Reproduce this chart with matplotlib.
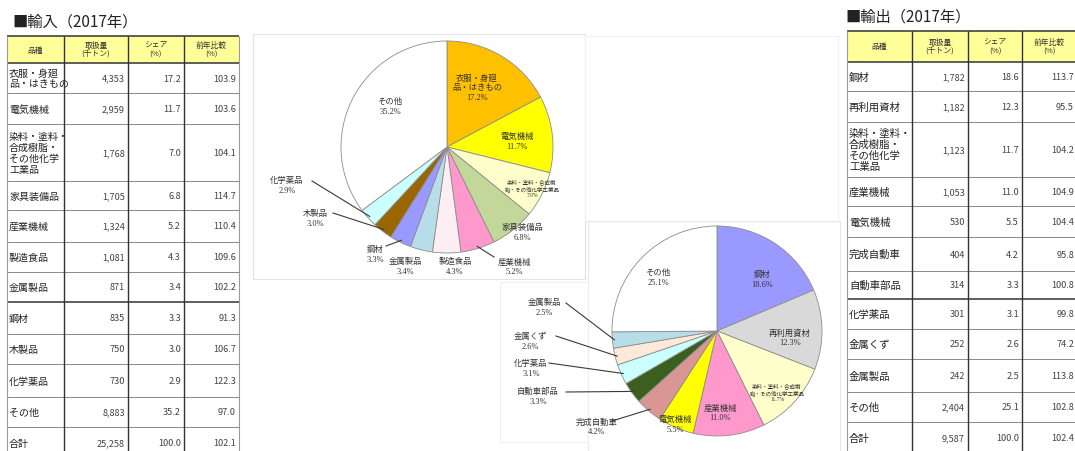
import matplotlib.pyplot as plt
import numpy as np
from matplotlib.patches import Rectangle

plt.rcParams['font.family'] = ['Noto Sans CJK JP', 'DejaVu Sans']

W, H = 1075, 452

# 輸入（2017年）
imp_items = ["衣服・身廻\n品・はきもの", "電気機械", "染料・塗料・\n合成樹脂・\nその他化学\n工業品",
             "家具装備品", "産業機械", "製造食品", "金属製品", "鋼材", "木製品", "化学薬品",
             "その他", "合計"]
imp_qty = [4353, 2959, 1768, 1705, 1324, 1081, 871, 835, 750, 730, 8883, 25258]
imp_share = [17.2, 11.7, 7.0, 6.8, 5.2, 4.3, 3.4, 3.3, 3.0, 2.9, 35.2, 100.0]
imp_yoy = [103.9, 103.6, 104.1, 114.7, 110.4, 109.6, 102.2, 91.3, 106.7, 122.3, 97.0, 102.1]
imp_pie_names = ["衣服・身廻\n品・はきもの", "電気機械", "染料・塗料・合成樹\n脂・その他化学工業品",
                 "家具装備品", "産業機械", "製造食品", "金属製品", "鋼材", "木製品", "化学薬品", "その他"]
imp_colors = ["#FFC000", "#FFFF00", "#FFFFCC", "#C4D79B", "#FF99CC", "#FDEEF4",
              "#B7DEE8", "#9999FF", "#996600", "#CCFFFF", "#FFFFFF"]

# 輸出（2017年）
exp_items = ["鋼材", "再利用資材", "染料・塗料・\n合成樹脂・\nその他化学\n工業品", "産業機械",
             "電気機械", "完成自動車", "自動車部品", "化学薬品", "金属くず", "金属製品",
             "その他", "合計"]
exp_qty = [1782, 1182, 1123, 1053, 530, 404, 314, 301, 252, 242, 2404, 9587]
exp_share = [18.6, 12.3, 11.7, 11.0, 5.5, 4.2, 3.3, 3.1, 2.6, 2.5, 25.1, 100.0]
exp_yoy = [113.7, 95.5, 104.2, 104.9, 104.4, 95.8, 100.8, 99.8, 74.2, 113.8, 102.8, 102.4]
exp_pie_names = ["鋼材", "再利用資材", "染料・塗料・合成樹\n脂・その他化学工業品", "産業機械",
                 "電気機械", "完成自動車", "自動車部品", "化学薬品", "金属くず", "金属製品", "その他"]
exp_colors = ["#9999FF", "#D9D9D9", "#FFFFCC", "#FF99CC", "#FFFF00", "#D99694",
              "#3A5F1E", "#CCFFFF", "#FDE9D9", "#B7DEE8", "#FFFFFF"]

header = ["品種", "取扱量\n(千トン)", "シェア\n(%)", "前年比較\n(%)"]

fig = plt.figure(figsize=(W / 100, H / 100), dpi=100)


def pixel_axes():
    ax = fig.add_axes([0, 0, 1, 1])
    ax.set_xlim(0, W)
    ax.set_ylim(H, 0)
    ax.axis('off')
    ax.patch.set_alpha(0)
    return ax


bg = pixel_axes()

# faint chart-area frames behind the pies
for x0, y0, x1, y1, c in [(253, 35, 585, 280, '#e2e2e2'), (585, 37, 838, 222, '#f0f0f0'),
                          (588, 222, 840, 455, '#e8e8e8'), (500, 283, 588, 443, '#f0f0f0')]:
    bg.add_patch(Rectangle((x0, y0), x1 - x0, y1 - y0, fill=False, ec=c, lw=0.8, zorder=0))


def draw_table(title, tx, xs, ys, items, qty, share, yoy, item_fs):
    bg.text(tx, ys[0] - 15, title, fontsize=11, va='center', ha='left', color='#222222')
    bg.add_patch(Rectangle((xs[0], ys[0]), xs[-1] - xs[0], ys[1] - ys[0],
                           fc='#FFFF99', ec='none', zorder=1))
    for j, h in enumerate(header):
        bg.text((xs[j] + xs[j + 1]) / 2, (ys[0] + ys[1]) / 2, h, fontsize=5.6,
                ha='center', va='center', color='#333333', linespacing=1.1, zorder=3)
    for i, name in enumerate(items):
        yc = (ys[i + 1] + ys[i + 2]) / 2
        bg.text(xs[0] + 2, yc, name, fontsize=item_fs, ha='left', va='center',
                color='#222222', linespacing=1.1, zorder=3)
        vals = [f"{qty[i]:,}", f"{share[i]:.1f}", f"{yoy[i]:.1f}"]
        for j, v in enumerate(vals):
            bg.text(xs[j + 2] - 3, yc, v, fontsize=6.6, ha='right', va='center',
                    color='#444444', zorder=3)
    # grid
    for k, y in enumerate(ys):
        heavy = k in (0, 1, 8)
        bg.plot([xs[0], xs[-1]], [y, y], color='#333333' if heavy else '#8a8a8a',
                lw=1.1 if heavy else 0.7, zorder=2, solid_capstyle='butt')
    for k, x in enumerate(xs):
        edge = k in (0, len(xs) - 1)
        bg.plot([x, x], [ys[0], ys[-1]], color='#9a9a9a' if edge else '#333333',
                lw=0.8 if edge else 1.0, zorder=2, solid_capstyle='butt')


imp_xs = [7, 64, 128, 184, 239]
imp_ys = [37, 64, 94, 125, 182, 211, 243, 273, 303, 335, 365, 398, 428, 460]
exp_xs = [847, 912, 968, 1022, 1077]
exp_ys = [32, 63, 92, 123, 178, 207, 238, 272, 300, 330, 360, 393, 423, 455]

draw_table("■輸入（2017年）", 12, imp_xs, imp_ys, imp_items, imp_qty, imp_share, imp_yoy, 7.2)
draw_table("■輸出（2017年）", 845, exp_xs, exp_ys, exp_items, exp_qty, exp_share, exp_yoy, 7.5)


def draw_pie(cx, cy, r, shares, colors):
    pad = 1.1
    R = r * pad
    pax = fig.add_axes([(cx - R) / W, (H - cy - R) / H, 2 * R / W, 2 * R / H])
    wedges, _ = pax.pie(shares, colors=colors, startangle=90, counterclock=False,
                        radius=1, wedgeprops=dict(edgecolor='#8c8c8c', linewidth=0.6))
    pax.set_xlim(-pad, pad)
    pax.set_ylim(-pad, pad)
    pax.axis('off')
    return pax, wedges


imp_lbl = [(477, 88), (517, 142), (532, 189), (522, 233), (514, 267), (455, 267),
           (405, 267), (375, 255), (315, 219), (287, 186), (390, 107)]
imp_lead = {4: (494, 258), 7: (386, 247), 8: (333, 214), 9: (312, 182)}
exp_lbl = [(762, 280), (790, 338), (777, 393), (720, 413), (675, 425), (597, 427),
           (538, 397), (531, 369), (530, 342), (544, 308), (658, 278)]
exp_lead = {5: (612, 422), 6: (566, 393), 7: (549, 364), 8: (556, 337), 9: (566, 304)}

pies = [draw_pie(447, 148, 106, imp_share[:-1], imp_colors),
        draw_pie(717, 332, 105, exp_share[:-1], exp_colors)]

# labels and leader lines go on a transparent layer above the pies
top = pixel_axes()
serif = ['Liberation Serif', 'Noto Sans CJK JP']
for (pax, wedges), shares, names, label_pos, leaders in [
        (pies[0], imp_share[:-1], imp_pie_names, imp_lbl, imp_lead),
        (pies[1], exp_share[:-1], exp_pie_names, exp_lbl, exp_lead)]:
    to_top = pax.transData + top.transData.inverted()
    for i, (name, s) in enumerate(zip(names, shares)):
        lx, ly = label_pos[i]
        fs = 4 if '染料' in name else 6
        top.text(lx, ly, f"{name}\n{s:.1f}%", fontsize=fs, family=serif, ha='center',
                 va='center', color='#333333', linespacing=1.25)
        if i in leaders:
            w = wedges[i]
            mid = np.deg2rad((w.theta1 + w.theta2) / 2)
            px, py = to_top.transform((0.98 * np.cos(mid), 0.98 * np.sin(mid)))
            sx, sy = leaders[i]
            top.plot([sx, px], [sy, py], color='#3a3a3a', lw=0.8)

fig.savefig("out.png", dpi=100, facecolor='white')
